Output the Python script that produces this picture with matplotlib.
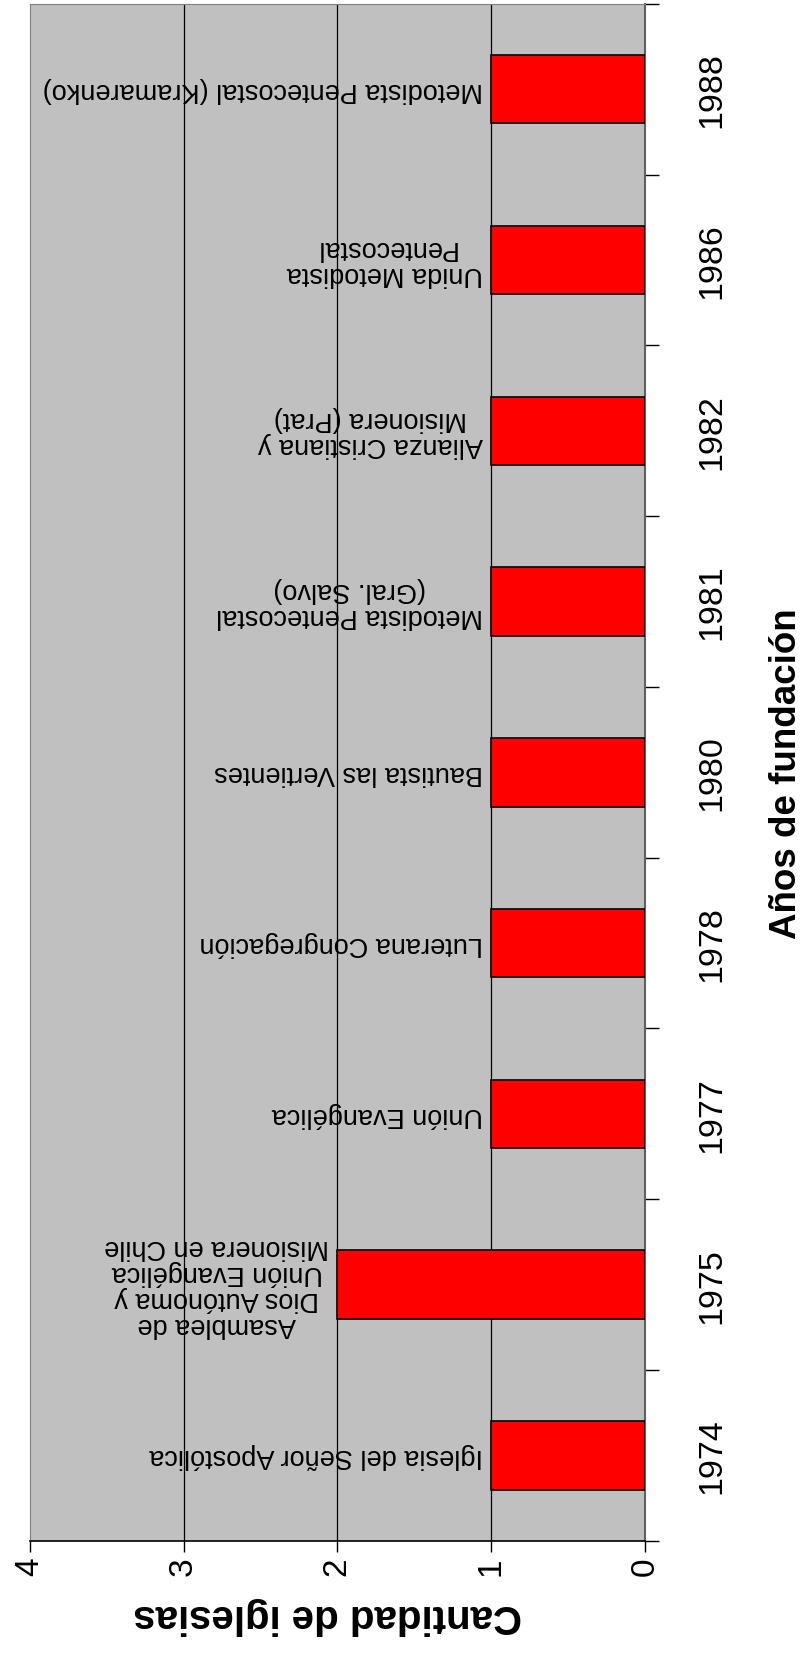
import numpy as np
import matplotlib
matplotlib.use('Agg')
import matplotlib.pyplot as plt

plt.rcParams['font.family'] = ['Liberation Sans', 'DejaVu Sans']

years = ['1974', '1975', '1977', '1978', '1980', '1981', '1982', '1986', '1988']
counts = [1, 2, 1, 1, 1, 1, 1, 1, 1]
names = ['Iglesia del Señor Apostólica',
         'Asamblea de\nDios Autónoma y\nUnión Evangélica\nMisionera en Chile',
         'Unión Evangélica',
         'Luterana Congregación',
         'Bautista las Vertientes',
         'Metodista Pentecostal\n(Gral. Salvo)',
         'Alianza Cristiana y\nMisionera (Prat)',
         'Unida Metodista\nPentecostal',
         'Metodista Pentecostal (Kramarenko)']
value_ticks = [0, 1, 2, 3, 4]

fig = plt.figure(figsize=(8.08, 16.56), dpi=100)
ax = fig.add_axes([0.037, 0.069, 0.761, 0.928])

pos = np.arange(len(years))
ax.set_facecolor('#C0C0C0')
ax.barh(pos, counts, height=0.4, color='#FF0000', edgecolor='black', linewidth=1.2, zorder=3)

for p, c, n in zip(pos, counts, names):
    ax.annotate(n, xy=(c, p), xytext=(-8, 0), textcoords='offset pixels',
                rotation=180, ha='right', va='center', multialignment='center',
                fontsize=19.5, linespacing=1.0, zorder=4)

ax.set_xlim(0, 4)
ax.invert_xaxis()
ax.set_ylim(-0.5, len(years) - 0.5)
ax.set_xticks(value_ticks)
ax.set_xticklabels([str(v) for v in value_ticks], rotation=90, fontsize=24)
ax.tick_params(axis='x', direction='out', length=8, width=1, pad=3, color='black')
for v in value_ticks[1:-1]:
    ax.axvline(v, color='black', linewidth=0.9, zorder=1)

# category axis: ticks between groups, labels at group centres
ax.yaxis.tick_right()
ax.set_yticks(np.arange(-0.5, len(years), 1.0))
ax.set_yticklabels([])
ax.set_yticks(pos, minor=True)
ax.set_yticklabels(years, minor=True, rotation=90, fontsize=24.5, va='center')
ax.tick_params(axis='y', which='major', direction='out', length=10, width=1, color='black')
ax.tick_params(axis='y', which='minor', length=0, pad=37)

ax.spines['left'].set_color('#808080')
ax.spines['top'].set_color('#808080')
ax.spines['right'].set_color('#606060')
ax.spines['right'].set_linewidth(1.5)
ax.spines['bottom'].set_color('black')
ax.spines['bottom'].set_linewidth(1.2)

ax.set_xlabel('Cantidad de iglesias', fontsize=29, fontweight='bold', rotation=180)
ax.xaxis.set_label_coords(0.485, -0.048)
ax.xaxis.label.set_va('center')
ax.yaxis.set_label_position('right')
ax.set_ylabel('Años de fundación', fontsize=26.5, fontweight='bold', rotation=90)
ax.yaxis.set_label_coords(1.231, 0.5)
ax.yaxis.label.set_va('center')

plt.savefig('out.png', dpi=100)
